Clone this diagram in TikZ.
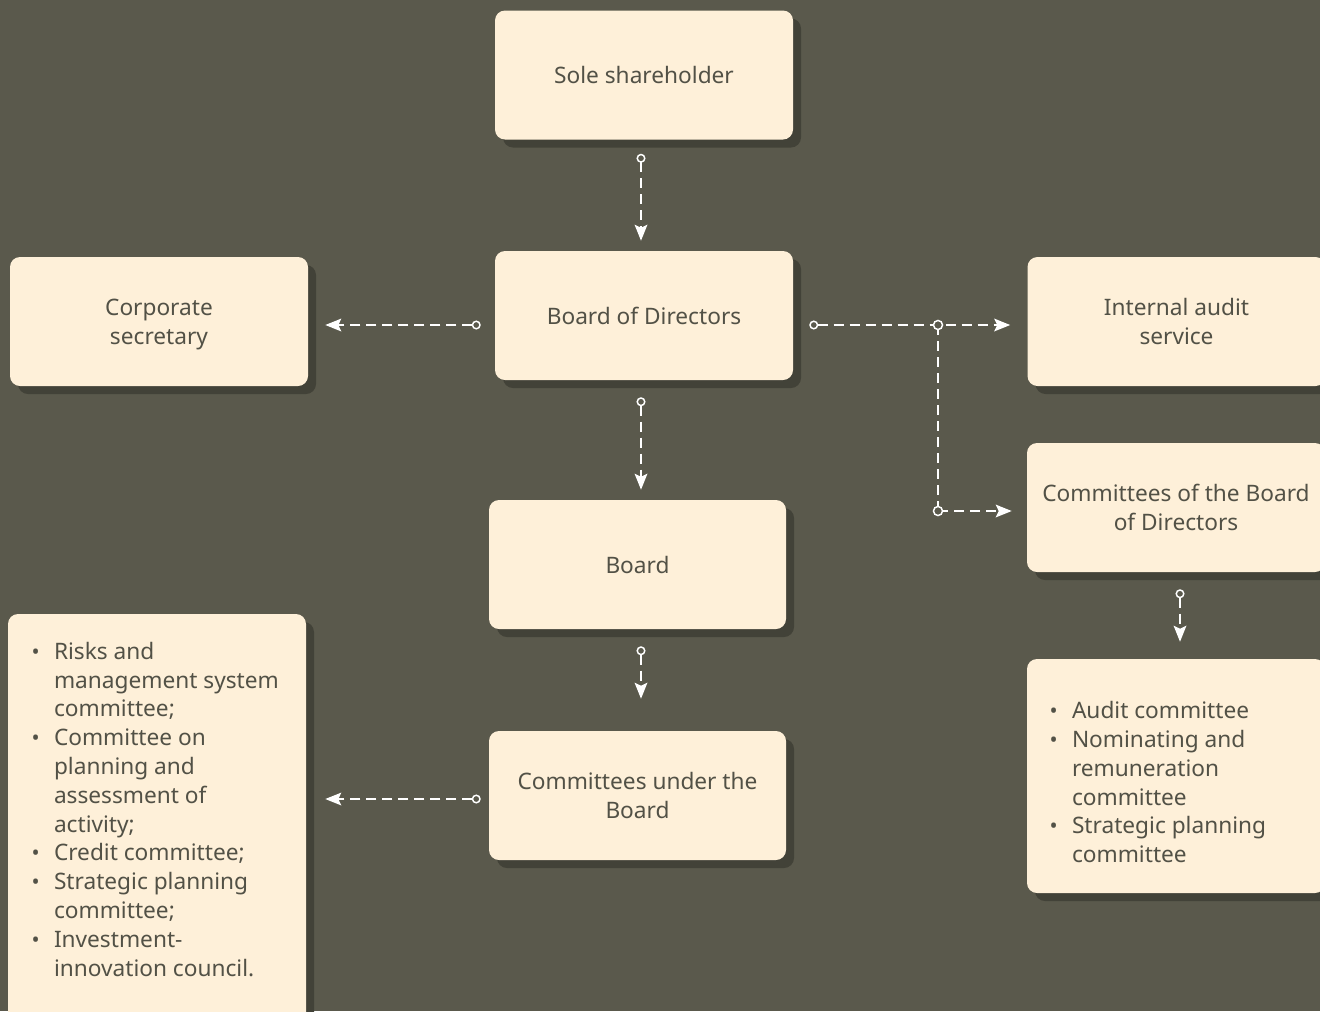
\documentclass[tikz,border=0pt]{standalone}
\usepackage{fontspec}
\setmainfont{Noto Sans}
\usetikzlibrary{arrows.meta,shadows}
\definecolor{bgc}{HTML}{5A594C}
\definecolor{boxc}{HTML}{FEF0D9}
\definecolor{shc}{HTML}{424238}
\definecolor{txtc}{HTML}{525146}
\newlength{\px}\setlength{\px}{0.75pt}
\newcommand\mainsz{\fontsize{17}{21.6}\selectfont}
\newcommand\bul{\makebox[23\px][l]{\hspace{0.5\px}\scalebox{0.95}{•}}}
\newcommand\lbl[1]{\raisebox{-3\px}[\height][\depth]{\begin{tabular}{@{}c@{}}#1\end{tabular}}}
\tikzset{
  boxbase/.style={fill=boxc, rounded corners=7.5pt, inner sep=0pt, text=txtc, font=\mainsz,
    general shadow={fill=shc, shadow xshift=6pt, shadow yshift=-6pt}},
  orgbox/.style={boxbase, minimum width=223.5pt, minimum height=96.75pt},
  listbox/.style={boxbase, minimum width=223.5pt},
  dashline/.style={draw=white, line width=1.5pt, dash pattern=on 7.5pt off 4.5pt},
  conn/.style={dashline, {Circle[open,fill=bgc,length=6.75pt,width=6.75pt,line width=1.1pt]}-{Stealth[length=12pt,width=9.5pt,inset=2.25pt]}},
  endarrow/.style={dashline, -{Stealth[length=12pt,width=9.5pt,inset=2.25pt]}},
  junction/.style={draw=white, fill=bgc, line width=1.1pt}
}
\begin{document}
\begin{tikzpicture}[x=0.75pt,y=-0.75pt]
\useasboundingbox (0,0) rectangle (1320,1011);
\clip (0,0) rectangle (1320,1011);
\fill[bgc] (0,0) rectangle (1320,1011);

\node[orgbox] (sole) at (644,75) {\lbl{Sole shareholder}};
\node[orgbox] (sec) at (159,321.5) {\lbl{Corporate\\secretary}};
\node[orgbox] (bod) at (644,315.5) {\lbl{Board of Directors}};
\node[orgbox] (ia) at (1176.5,321.5) {\lbl{Internal audit\\service}};
\node[orgbox] (cbod) at (1176,507.5) {\lbl{Committees of the Board\\of Directors}};
\node[orgbox, minimum width=222.75pt] (board) at (637.5,564.5) {\lbl{Board}};
\node[orgbox, minimum width=222.75pt] (cu) at (637.5,795.5) {\lbl{Committees under the\\Board}};

\node[listbox, minimum height=319.5pt] (llist) at (157,827) {\raisebox{15\px}[\height][\depth]{\makebox[252\px][l]{\begin{tabular}{@{}l@{}l@{}}
\bul & Risks and\\
& management system\\
& committee;\\
\bul & Committee on\\
& planning and\\
& assessment of\\
& activity;\\
\bul & Credit committee;\\
\bul & Strategic planning\\
& committee;\\
\bul & Investment-\\
& innovation council.
\end{tabular}}}};

\node[listbox, minimum height=175.5pt] (rlist) at (1176,776) {\raisebox{-9\px}[\height][\depth]{\makebox[254\px][l]{\begin{tabular}{@{}l@{}l@{}}
\bul & Audit committee\\
\bul & Nominating and\\
& remuneration\\
& committee\\
\bul & Strategic planning\\
& committee
\end{tabular}}}};

\coordinate (vx) at (641,0);
\coordinate (vx2) at (1180,0);
\coordinate (r1) at (0,325);
\coordinate (r2) at (0,799);
\coordinate (j1) at (938,325);
\coordinate (j2) at (938,511);

\draw[conn, shorten <=10.5pt, shorten >=7.5pt] (sole.south -| vx) -- (bod.north -| vx);
\draw[conn, shorten <=10.5pt, shorten >=12.75pt] (bod.west |- r1) -- (sec.east |- r1);
\draw[conn, shorten <=12pt, shorten >=12.75pt] (bod.east |- r1) -- (ia.west |- r1);
\draw[dashline] (j1) -- (j2);
\draw[endarrow, shorten >=11.25pt] (j2) -- (cbod.west |- j2);
\draw[junction] (j1) circle (3.4pt);
\draw[junction] (j2) circle (3.4pt);
\draw[conn, shorten <=12.75pt, shorten >=7.5pt] (bod.south -| vx) -- (board.north -| vx);
\draw[conn, shorten <=12.75pt, shorten >=24pt] (board.south -| vx) -- (cu.north -| vx);
\draw[conn, shorten <=6pt, shorten >=14.25pt] (cu.west |- r2) -- (llist.east |- r2);
\draw[conn, shorten <=12.75pt, shorten >=12.75pt] (cbod.south -| vx2) -- (rlist.north -| vx2);
\end{tikzpicture}
\end{document}
